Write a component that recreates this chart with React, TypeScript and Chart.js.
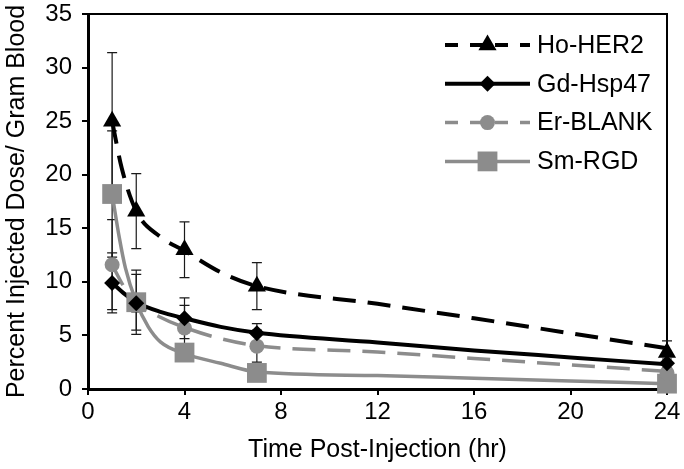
import React, { useEffect, useRef } from 'react';
import { Chart, registerables } from 'chart.js';

Chart.register(...registerables);

// ---- data ----
const seriesNames = ['Ho-HER2', 'Gd-Hsp47', 'Er-BLANK', 'Sm-RGD'];
const times = [1, 2, 4, 7, 24];

const hoHer2 = [25.0, 16.6, 13.0, 9.6, 3.4];
const hoHer2Err = [6.4, 3.5, 2.6, 2.2, 1.1];
const gdHsp47 = [9.9, 8.0, 6.6, 5.2, 2.4];
const gdHsp47Err = [2.8, 0.8, 1.9, 0.9, 0.4];
const erBlank = [11.6, 8.1, 5.7, 4.0, 1.5];
const erBlankErr = [4.2, 2.6, 2.1, 1.5, 0.4];
const smRgd = [18.2, 8.1, 3.4, 1.5, 0.5];
const smRgdErr = [5.9, 3.0, 0.6, 0.3, 0.2];

// fitted trend curves
const hoCurveT = [1, 1.4, 2, 3, 4, 5.5, 7, 12, 16, 20, 24];
const hoCurve = [25.0, 20.6, 16.6, 14.2, 12.9, 10.9, 9.6, 7.95, 6.6, 5.2, 3.8];
const gdCurveT = [1, 1.5, 2, 3, 4, 5.5, 7, 12, 16, 20, 24];
const gdCurve = [9.9, 8.9, 8.1, 7.2, 6.6, 5.8, 5.25, 4.35, 3.6, 2.95, 2.3];
const erCurveT = [1, 1.5, 2, 3, 4, 5.5, 7, 12, 16, 20, 24];
const erCurve = [11.6, 9.5, 8.1, 6.7, 5.75, 4.7, 4.05, 3.45, 2.85, 2.25, 1.65];
const smCurveT = [1, 1.3, 1.55, 2, 2.5, 3, 4, 5.5, 7, 12, 16, 20, 24];
const smCurve = [18.2, 14.1, 11.3, 8.1, 5.8, 4.4, 3.3, 2.4, 1.6, 1.25, 1.0, 0.75, 0.5];

const xTicksMin = 0;
const xTicksMax = 24;
const xStep = 4;
const yTicksMin = 0;
const yTicksMax = 35;
const yStep = 5;

const GRAY = '#8c8c8c';
const FONT = '"Liberation Sans", Arial, Helvetica, sans-serif';

const styles = [
  { color: '#000000', dash: [23, 12], legendDash: [13, 12], width: 4, shape: 'triangle', r: 10.5 },
  { color: '#000000', dash: [], legendDash: [], width: 4, shape: 'rectRot', r: 8 },
  { color: GRAY, dash: [23, 12], legendDash: [13, 12], width: 3.5, shape: 'circle', r: 7.5 },
  { color: GRAY, dash: [], legendDash: [], width: 3.5, shape: 'rect', r: 14 },
];

const values = [hoHer2, gdHsp47, erBlank, smRgd];
const errs = [hoHer2Err, gdHsp47Err, erBlankErr, smRgdErr];
const curvesT = [hoCurveT, gdCurveT, erCurveT, smCurveT];
const curves = [hoCurve, gdCurve, erCurve, smCurve];

function drawMarker(ctx: CanvasRenderingContext2D, shape: string, x: number, y: number, r: number) {
  ctx.beginPath();
  if (shape === 'triangle') {
    for (let k = 0; k < 3; k++) {
      const a = (k * 2 * Math.PI) / 3;
      const px = x + Math.sin(a) * r;
      const py = y - Math.cos(a) * r;
      if (k === 0) ctx.moveTo(px, py);
      else ctx.lineTo(px, py);
    }
  } else if (shape === 'rectRot') {
    ctx.moveTo(x - r, y);
    ctx.lineTo(x, y - r);
    ctx.lineTo(x + r, y);
    ctx.lineTo(x, y + r);
  } else if (shape === 'circle') {
    ctx.arc(x, y, r, 0, Math.PI * 2);
  } else {
    const s = Math.SQRT1_2 * r;
    ctx.rect(x - s, y - s, 2 * s, 2 * s);
  }
  ctx.closePath();
  ctx.fill();
}

const framePlugin = {
  id: 'frameAndErrors',
  beforeDatasetsDraw(chart: any) {
    const { ctx, chartArea, scales } = chart;
    const xs = scales.x;
    const ys = scales.y;
    ctx.save();
    ctx.strokeStyle = '#000';
    ctx.lineWidth = 2;
    ctx.setLineDash([]);
    ctx.beginPath();
    ctx.moveTo(chartArea.left, chartArea.top);
    ctx.lineTo(chartArea.right, chartArea.top);
    ctx.lineTo(chartArea.right, chartArea.bottom);
    ctx.stroke();

    ctx.strokeStyle = '#1a1a1a';
    ctx.lineWidth = 1.2;
    chart.data.datasets.forEach((ds: any) => {
      if (!ds.errors) return;
      ds.data.forEach((p: any, i: number) => {
        const e = ds.errors[i];
        const px = xs.getPixelForValue(p.x);
        const top = ys.getPixelForValue(p.y + e);
        const bot = ys.getPixelForValue(Math.max(p.y - e, 0));
        ctx.beginPath();
        ctx.moveTo(px, top);
        ctx.lineTo(px, bot);
        ctx.moveTo(px - 5, top);
        ctx.lineTo(px + 5, top);
        ctx.moveTo(px - 5, bot);
        ctx.lineTo(px + 5, bot);
        ctx.stroke();
      });
    });
    ctx.restore();
  },
};

const legendPlugin = {
  id: 'customLegend',
  afterDraw(chart: any) {
    const { ctx } = chart;
    const x0 = 445;
    const x1 = 530;
    const tx = 537;
    const y0 = 45;
    const dy = 38.8;
    ctx.save();
    seriesNames.forEach((name, i) => {
      const st = styles[i];
      const y = y0 + i * dy;
      ctx.strokeStyle = st.color;
      ctx.lineWidth = st.width;
      ctx.setLineDash(st.legendDash);
      ctx.beginPath();
      ctx.moveTo(x0, y);
      ctx.lineTo(x1, y);
      ctx.stroke();
      ctx.setLineDash([]);
      ctx.fillStyle = st.color;
      drawMarker(ctx, st.shape, (x0 + x1) / 2, y, st.r);
      ctx.fillStyle = '#000';
      ctx.font = `25px ${FONT}`;
      ctx.textAlign = 'left';
      ctx.textBaseline = 'middle';
      ctx.fillText(name, tx, y + 1);
    });
    ctx.restore();
  },
};

export default function App() {
  const ref = useRef<HTMLCanvasElement | null>(null);

  useEffect(() => {
    if (!ref.current) return;
    const markerSets = seriesNames.map((name, i) => ({
      label: name,
      data: times.map((t, k) => ({ x: t, y: values[i][k] })),
      errors: errs[i],
      showLine: false,
      pointStyle: styles[i].shape,
      pointRadius: styles[i].r,
      pointHoverRadius: styles[i].r,
      pointBackgroundColor: styles[i].color,
      pointBorderColor: styles[i].color,
      pointBorderWidth: 0,
      borderColor: styles[i].color,
      backgroundColor: styles[i].color,
      clip: false as any,
      order: 1,
    }));
    const curveSets = seriesNames.map((name, i) => ({
      label: name + ' fit',
      data: curvesT[i].map((t, k) => ({ x: t, y: curves[i][k] })),
      showLine: true,
      pointRadius: 0,
      borderColor: styles[i].color,
      borderWidth: styles[i].width,
      borderDash: styles[i].dash,
      cubicInterpolationMode: 'monotone' as const,
      fill: false,
      clip: false as any,
      order: 2,
    }));

    const chart = new Chart(ref.current, {
      type: 'scatter',
      data: { datasets: [...markerSets, ...curveSets] as any },
      options: {
        animation: false,
        responsive: false,
        maintainAspectRatio: false,
        events: [],
        layout: { padding: { top: 12, right: 17, left: 0, bottom: 0 } },
        plugins: {
          legend: { display: false },
          tooltip: { enabled: false },
        },
        scales: {
          x: {
            type: 'linear',
            min: xTicksMin,
            max: xTicksMax,
            afterFit: (s: any) => {
              s.height = 80;
              s.paddingLeft = 0;
              s.paddingRight = 0;
            },
            ticks: {
              stepSize: xStep,
              color: '#000',
              padding: 3,
              maxRotation: 0,
              font: { family: FONT, size: 24 },
            },
            grid: {
              display: true,
              drawOnChartArea: false,
              drawTicks: true,
              tickLength: 6,
              color: '#000',
              lineWidth: 2,
            },
            border: { display: true, color: '#000', width: 3 },
            title: {
              display: true,
              text: 'Time Post-Injection (hr)',
              color: '#000',
              font: { family: FONT, size: 25 },
              padding: { top: 4, bottom: 4 },
            },
          },
          y: {
            type: 'linear',
            min: yTicksMin,
            max: yTicksMax,
            afterFit: (s: any) => {
              s.width = 88;
              s.paddingTop = 0;
              s.paddingBottom = 0;
            },
            ticks: {
              stepSize: yStep,
              color: '#000',
              padding: 10,
              font: { family: FONT, size: 24 },
            },
            grid: {
              display: true,
              drawOnChartArea: false,
              drawTicks: true,
              tickLength: 6,
              color: '#000',
              lineWidth: 2,
            },
            border: { display: true, color: '#000', width: 3 },
            title: {
              display: true,
              text: 'Percent Injected Dose/ Gram Blood',
              color: '#000',
              font: { family: FONT, size: 25 },
              padding: { top: 2, bottom: 0 },
            },
          },
        },
      },
      plugins: [framePlugin, legendPlugin],
    });
    return () => chart.destroy();
  }, []);

  return (
    <div style={{ position: 'fixed', left: 0, top: 0, width: 684, height: 469, background: '#fff' }}>
      <canvas ref={ref} width={684} height={469} style={{ display: 'block', width: 684, height: 469 }} />
    </div>
  );
}
